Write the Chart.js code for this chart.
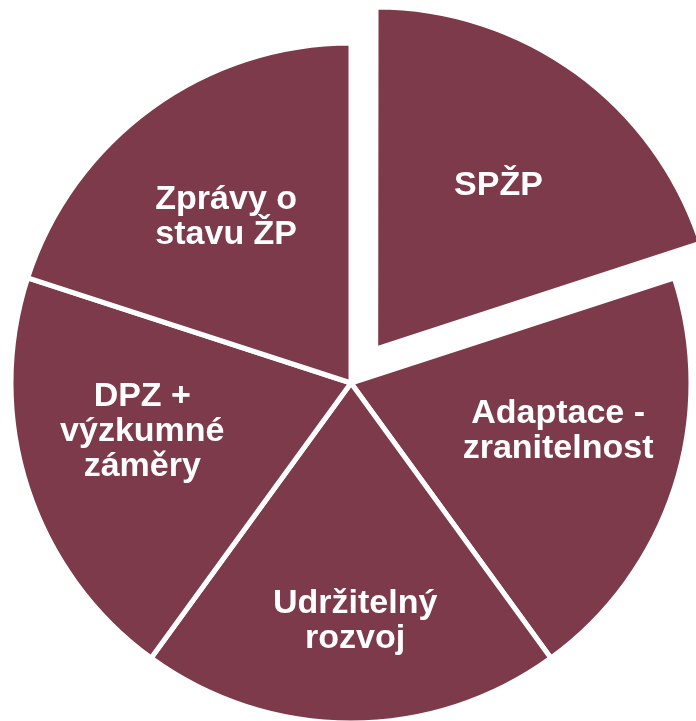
<!DOCTYPE html>
<html>
<head>
<meta charset="utf-8">
<script src="https://cdn.jsdelivr.net/npm/chart.js@4"></script>
<style>
  html, body { margin: 0; padding: 0; background: #fff; }
  #wrap { width: 696px; height: 721px; }
</style>
</head>
<body>
<div id="wrap"><canvas id="chart"></canvas></div>
<script>
// five equal topics, first one pulled out
const categories = ['SPŽP', 'Adaptace - zranitelnost', 'Udržitelný rozvoj', 'DPZ + výzkumné záměry', 'Zprávy o stavu ŽP'];
const shares = [20, 20, 20, 20, 20];
const labelLines = [
  ['SPŽP'],
  ['Adaptace -', 'zranitelnost'],
  ['Udržitelný', 'rozvoj'],
  ['DPZ +', 'výzkumné', 'záměry'],
  ['Zprávy o', 'stavu ŽP'],
];
// chart.js moves an arc by offset / 4
const pulledOut = [168, 0, 0, 0, 0];

const sliceColor = '#7D3A4A';

// where the text sits inside each slice (fraction of radius, angle tweak in deg)
const labelPlace = [
  { r: 0.60, a: 1 },
  { r: 0.625, a: -5 },
  { r: 0.70, a: -1 },
  { r: 0.63, a: 5 },
  { r: 0.61, a: -1 },
];

const sliceLabels = {
  id: 'sliceLabels',
  afterDatasetsDraw(chart) {
    const ctx = chart.ctx;
    const meta = chart.getDatasetMeta(0);
    ctx.save();
    ctx.fillStyle = '#fff';
    ctx.font = 'bold 34px "Liberation Sans", Arial, sans-serif';
    ctx.textAlign = 'center';
    ctx.textBaseline = 'middle';
    meta.data.forEach((arc, i) => {
      const p = labelPlace[i];
      const mid = (arc.startAngle + arc.endAngle) / 2;
      const ang = mid + p.a * Math.PI / 180;
      const off = pulledOut[i] / 4;
      const cx = arc.x + Math.cos(mid) * off + Math.cos(ang) * arc.outerRadius * p.r;
      const cy = arc.y + Math.sin(mid) * off + Math.sin(ang) * arc.outerRadius * p.r;
      const lines = labelLines[i];
      const lh = 35;
      lines.forEach((t, j) => {
        ctx.fillText(t, cx, cy + (j - (lines.length - 1) / 2) * lh);
      });
    });
    ctx.restore();
  }
};

new Chart(document.getElementById('chart'), {
  type: 'pie',
  data: {
    labels: categories,
    datasets: [{
      data: shares,
      backgroundColor: sliceColor,
      borderColor: '#ffffff',
      borderWidth: 5,
      borderJoinStyle: 'miter',
      offset: pulledOut,
      hoverOffset: 0,
      clip: false,
    }]
  },
  options: {
    responsive: true,
    maintainAspectRatio: false,
    animation: false,
    events: [],
    radius: 340,
    layout: { padding: { left: 6, right: 0, top: 45, bottom: 0 } },
    plugins: {
      legend: { display: false },
      tooltip: { enabled: false },
    }
  },
  plugins: [sliceLabels]
});
</script>
</body>
</html>
